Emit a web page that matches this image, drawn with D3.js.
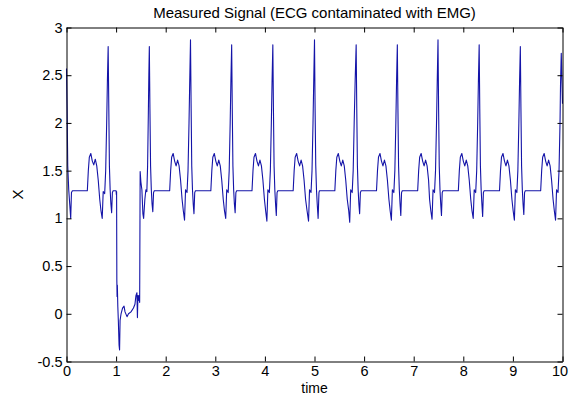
<!DOCTYPE html>
<html>
<head>
<meta charset="utf-8">
<script src="https://cdn.jsdelivr.net/npm/d3@7"></script>
<style>
  html, body { margin: 0; padding: 0; background: #fff; }
  svg { display: block; }
  text { font-family: Arial, "Liberation Sans", sans-serif; fill: #000; }
</style>
</head>
<body>
<div id="chart"></div>
<script>
const width = 569;
const height = 395;

const chartTitle = "Measured Signal (ECG contaminated with EMG)";
const xLabel = "time";
const yLabel = "X";
const xTicks = [0, 1, 2, 3, 4, 5, 6, 7, 8, 9, 10];
const yTicks = [-0.5, 0, 0.5, 1, 1.5, 2, 2.5, 3];

// [time, value] pairs, one heartbeat per line
const ecgSamples = [
    [0, 2.57], [0.012, 2.15], [0.025, 1.55], [0.045, 1.3], [0.065, 1.15], [0.085, 1.0], [0.1, 1.27], [0.12, 1.29], [0.42, 1.29], [0.44, 1.5], [0.46, 1.64], [0.49, 1.68], [0.52, 1.6], [0.55, 1.56], [0.58, 1.62], [0.61, 1.55], [0.64, 1.4], [0.67, 1.2], [0.695, 1.08], [0.72, 1.0], [0.74, 1.28], [0.77, 1.26], [0.79, 1.5], [0.81, 2.0], [0.825, 2.45], [0.84, 2.80],
    [0.852, 2.2], [0.865, 1.55], [0.88, 1.3], [0.895, 1.15], [0.91, 1.06], [0.925, 1.27], [0.94, 1.29], [1.0, 1.29], [1.005, 1.25], [1.01, 1.28],
    // EMG burst
    [1.015, 0.35], [1.02, 0.18], [1.025, 0.3], [1.035, 0.07], [1.045, -0.07], [1.06, -0.33], [1.07, -0.38], [1.08, -0.07], [1.10, 0.0], [1.13, 0.06], [1.16, 0.08], [1.18, 0.02], [1.22, -0.03], [1.25, 0.0], [1.30, 0.02], [1.35, 0.06], [1.38, 0.1], [1.40, 0.19], [1.42, 0.22], [1.43, -0.04], [1.44, 0.19], [1.45, 0.14], [1.46, 0.19], [1.475, 0.12],
    [1.485, 1.49], [1.50, 1.38], [1.52, 1.3], [1.54, 1.05], [1.555, 1.0], [1.58, 1.2], [1.60, 1.3], [1.62, 1.28], [1.635, 1.55], [1.65, 2.1], [1.66, 2.5], [1.67, 2.80],
    [1.682, 2.15], [1.695, 1.55], [1.71, 1.3], [1.725, 1.15], [1.74, 1.07], [1.755, 1.27], [1.77, 1.29], [2.08, 1.29], [2.10, 1.5], [2.12, 1.64], [2.15, 1.68], [2.18, 1.6], [2.21, 1.55], [2.24, 1.61], [2.27, 1.55], [2.30, 1.4], [2.33, 1.2], [2.355, 1.08], [2.38, 0.98], [2.40, 1.3], [2.43, 1.27], [2.45, 1.5], [2.47, 2.0], [2.485, 2.45], [2.50, 2.87],
    [2.512, 2.2], [2.525, 1.55], [2.54, 1.3], [2.555, 1.15], [2.57, 1.05], [2.585, 1.27], [2.60, 1.29], [2.91, 1.29], [2.93, 1.5], [2.95, 1.64], [2.98, 1.68], [3.01, 1.6], [3.04, 1.55], [3.07, 1.61], [3.10, 1.55], [3.13, 1.4], [3.16, 1.2], [3.185, 1.08], [3.21, 1.0], [3.23, 1.3], [3.26, 1.27], [3.28, 1.5], [3.30, 2.0], [3.315, 2.45], [3.33, 2.82],
    [3.342, 2.15], [3.355, 1.55], [3.37, 1.3], [3.385, 1.15], [3.40, 1.06], [3.415, 1.27], [3.43, 1.29], [3.74, 1.29], [3.76, 1.5], [3.78, 1.64], [3.81, 1.68], [3.84, 1.6], [3.87, 1.55], [3.90, 1.61], [3.93, 1.55], [3.96, 1.4], [3.99, 1.2], [4.015, 1.08], [4.04, 0.97], [4.06, 1.3], [4.09, 1.27], [4.11, 1.5], [4.13, 2.0], [4.145, 2.45], [4.16, 2.82],
    [4.172, 2.15], [4.185, 1.55], [4.20, 1.3], [4.215, 1.15], [4.23, 1.03], [4.245, 1.27], [4.26, 1.29], [4.57, 1.29], [4.59, 1.5], [4.61, 1.64], [4.64, 1.68], [4.67, 1.6], [4.70, 1.55], [4.73, 1.61], [4.76, 1.55], [4.79, 1.4], [4.82, 1.2], [4.85, 1.08], [4.88, 0.97], [4.90, 1.3], [4.93, 1.27], [4.95, 1.5], [4.97, 2.0], [4.985, 2.45], [5.00, 2.87],
    [5.012, 2.15], [5.025, 1.56], [5.04, 1.3], [5.055, 1.15], [5.073, 1.0], [5.09, 1.27], [5.10, 1.29], [5.41, 1.29], [5.43, 1.5], [5.45, 1.64], [5.48, 1.68], [5.51, 1.6], [5.54, 1.55], [5.57, 1.61], [5.60, 1.55], [5.63, 1.4], [5.66, 1.2], [5.69, 1.08], [5.71, 0.96], [5.73, 1.3], [5.76, 1.27], [5.78, 1.5], [5.80, 2.0], [5.82, 2.45], [5.84, 2.82],
    [5.852, 2.15], [5.865, 1.55], [5.88, 1.3], [5.895, 1.15], [5.91, 1.05], [5.925, 1.27], [5.94, 1.29], [6.25, 1.29], [6.27, 1.5], [6.29, 1.64], [6.32, 1.68], [6.35, 1.6], [6.38, 1.55], [6.41, 1.61], [6.44, 1.55], [6.47, 1.4], [6.50, 1.2], [6.525, 1.08], [6.55, 0.98], [6.57, 1.3], [6.60, 1.27], [6.62, 1.5], [6.64, 2.0], [6.655, 2.45], [6.67, 2.82],
    [6.682, 2.15], [6.695, 1.55], [6.71, 1.3], [6.725, 1.15], [6.74, 1.03], [6.755, 1.27], [6.77, 1.29], [7.08, 1.29], [7.10, 1.5], [7.12, 1.64], [7.15, 1.68], [7.18, 1.6], [7.21, 1.55], [7.24, 1.61], [7.27, 1.55], [7.30, 1.4], [7.32, 1.2], [7.345, 1.08], [7.37, 0.99], [7.39, 1.3], [7.42, 1.27], [7.44, 1.5], [7.46, 2.0], [7.475, 2.45], [7.49, 2.87],
    [7.502, 2.15], [7.515, 1.55], [7.53, 1.3], [7.545, 1.15], [7.56, 1.03], [7.575, 1.27], [7.59, 1.29], [7.90, 1.29], [7.92, 1.5], [7.94, 1.64], [7.97, 1.68], [8.00, 1.6], [8.03, 1.55], [8.06, 1.61], [8.09, 1.55], [8.12, 1.4], [8.15, 1.2], [8.175, 1.08], [8.20, 1.0], [8.22, 1.3], [8.25, 1.27], [8.27, 1.5], [8.29, 2.0], [8.305, 2.45], [8.32, 2.82],
    [8.332, 2.15], [8.345, 1.55], [8.36, 1.3], [8.375, 1.15], [8.39, 1.02], [8.405, 1.27], [8.42, 1.29], [8.73, 1.29], [8.75, 1.5], [8.77, 1.64], [8.80, 1.68], [8.83, 1.6], [8.86, 1.55], [8.89, 1.61], [8.92, 1.55], [8.95, 1.4], [8.98, 1.2], [9.005, 1.08], [9.03, 0.98], [9.05, 1.3], [9.08, 1.27], [9.10, 1.5], [9.12, 2.0], [9.135, 2.45], [9.15, 2.80],
    [9.162, 2.15], [9.175, 1.55], [9.19, 1.3], [9.205, 1.15], [9.22, 1.04], [9.235, 1.27], [9.25, 1.29], [9.56, 1.29], [9.58, 1.5], [9.60, 1.64], [9.63, 1.68], [9.66, 1.6], [9.69, 1.55], [9.72, 1.61], [9.75, 1.55], [9.78, 1.4], [9.81, 1.2], [9.835, 1.08], [9.86, 0.98], [9.88, 1.3], [9.91, 1.27], [9.93, 1.5], [9.95, 2.0], [9.96, 2.4], [9.975, 2.73], [10.0, 2.2]
];

const margin = { top: 27.5, right: 6.5, bottom: 33.5, left: 66.5 };

const svg = d3.select("#chart")
    .append("svg")
    .attr("width", width)
    .attr("height", height);

const x = d3.scaleLinear()
    .domain([0, 10])
    .range([margin.left, width - margin.right]);

const y = d3.scaleLinear()
    .domain([-0.5, 3])
    .range([height - margin.bottom, margin.top]);

// signal
const line = d3.line()
    .x(d => x(d[0]))
    .y(d => y(d[1]));

svg.append("path")
    .datum(ecgSamples)
    .attr("fill", "none")
    .attr("stroke", "#1414a8")
    .attr("stroke-width", 1.1)
    .attr("stroke-linejoin", "round")
    .attr("d", line);

// box axes, ticks pointing inwards
const fmt = d => String(d);

const xAxis = svg.append("g")
    .attr("transform", `translate(0,${height - margin.bottom})`)
    .call(d3.axisBottom(x).tickValues(xTicks).tickFormat(fmt).tickSizeInner(-5).tickSizeOuter(0).tickPadding(4));

svg.append("g")
    .attr("transform", `translate(0,${margin.top})`)
    .call(d3.axisTop(x).tickValues(xTicks).tickFormat("").tickSizeInner(-5).tickSizeOuter(0));

svg.append("g")
    .attr("transform", `translate(${margin.left},0)`)
    .call(d3.axisLeft(y).tickValues(yTicks).tickFormat(fmt).tickSizeInner(-5).tickSizeOuter(0).tickPadding(4));

svg.append("g")
    .attr("transform", `translate(${width - margin.right},0)`)
    .call(d3.axisRight(y).tickValues(yTicks).tickFormat("").tickSizeInner(-5).tickSizeOuter(0));

svg.selectAll(".domain, .tick line").attr("stroke", "#000");
svg.selectAll(".tick text").style("font-size", "14.5px").attr("fill", "#000");

// the last x label sits at the window edge, nudge it inside
xAxis.selectAll(".tick text").filter(d => d === 10).attr("dx", -3);

// title and axis labels
svg.append("text")
    .attr("x", (margin.left + width - margin.right) / 2)
    .attr("y", 18)
    .attr("text-anchor", "middle")
    .style("font-size", "15px")
    .text(chartTitle);

svg.append("text")
    .attr("x", (margin.left + width - margin.right) / 2)
    .attr("y", 393)
    .attr("text-anchor", "middle")
    .style("font-size", "14px")
    .text(xLabel);

svg.append("text")
    .attr("transform", `translate(23,${(margin.top + height - margin.bottom) / 2}) rotate(-90)`)
    .attr("text-anchor", "middle")
    .style("font-size", "15px")
    .text(yLabel);
</script>
</body>
</html>
